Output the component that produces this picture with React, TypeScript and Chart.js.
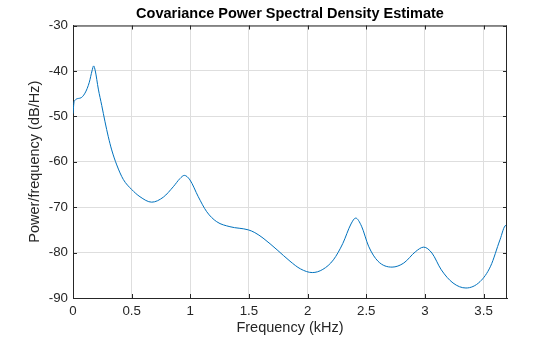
import React, { useEffect, useRef } from "react";
import { Chart, registerables } from "chart.js";

Chart.register(...registerables);

const titleText = "Covariance Power Spectral Density Estimate";
const xLabel = "Frequency (kHz)";
const yLabel = "Power/frequency (dB/Hz)";

const freqKHz = [
  0, 0.01, 0.06, 0.102, 0.139, 0.162, 0.176, 0.19, 0.216, 0.245, 0.273, 0.301,
  0.33, 0.373, 0.429, 0.5, 0.571, 0.671, 0.77, 0.855, 0.912, 0.949, 0.997, 1.068,
  1.14, 1.225, 1.338, 1.495, 1.55, 1.62, 1.74, 1.85, 1.94, 2.04, 2.13, 2.22, 2.3,
  2.37, 2.41, 2.46, 2.52, 2.6, 2.72, 2.82, 2.92, 2.99, 3.06, 3.14, 3.24, 3.35,
  3.47, 3.56, 3.64, 3.69, 3.7,
];
const psdDb = [
  -49.4, -46.7, -46.0, -44.9, -42.5, -40.0, -38.9, -40.0, -44.0, -47.6, -51.2,
  -54.5, -57.4, -60.7, -63.9, -66.1, -67.7, -68.9, -67.8, -65.5, -63.7, -63.0,
  -64.0, -67.7, -71.0, -73.2, -74.3, -75.0, -75.6, -76.8, -79.4, -81.9, -83.6,
  -84.4, -83.7, -81.6, -78.0, -73.7, -72.4, -74.2, -78.6, -81.9, -83.2, -82.3,
  -79.8, -78.8, -80.1, -83.8, -86.7, -87.8, -86.4, -83.0, -77.2, -74.0, -74.8,
];

const xMin = 0;
const xMax = 3.7;
const xStep = 0.5;
const yMin = -90;
const yMax = -30;
const yStep = 10;

const FONT = "'Liberation Sans', Arial, Helvetica, sans-serif";
const AXIS_COLOR = "#262626";
const GRID_COLOR = "#dedede";
const LINE_COLOR = "#0072BD";

const boxPlugin = {
  id: "matlabBox",
  afterDraw(chart: any) {
    const { ctx, chartArea } = chart;
    const { left, right, top, bottom } = chartArea;
    const xs = chart.scales.x;
    const ys = chart.scales.y;
    const tl = 4;
    ctx.save();
    ctx.strokeStyle = AXIS_COLOR;
    ctx.lineWidth = 1;
    ctx.beginPath();
    ctx.moveTo(left, top + 0.5);
    ctx.lineTo(right, top + 0.5);
    ctx.moveTo(right - 0.5, top);
    ctx.lineTo(right - 0.5, bottom);
    xs.ticks.forEach((t: any) => {
      const px = Math.round(xs.getPixelForValue(t.value)) + 0.5;
      ctx.moveTo(px, bottom);
      ctx.lineTo(px, bottom - tl);
      ctx.moveTo(px, top);
      ctx.lineTo(px, top + tl);
    });
    ys.ticks.forEach((t: any) => {
      const py = Math.round(ys.getPixelForValue(t.value)) + 0.5;
      ctx.moveTo(left, py);
      ctx.lineTo(left + tl, py);
      ctx.moveTo(right, py);
      ctx.lineTo(right - tl, py);
    });
    ctx.stroke();
    ctx.restore();
  },
};

export default function App() {
  const canvasRef = useRef<HTMLCanvasElement | null>(null);

  useEffect(() => {
    const canvas = canvasRef.current;
    if (!canvas) return;
    const points = freqKHz.map((f, i) => ({ x: f, y: psdDb[i] }));
    const chart = new Chart(canvas, {
      type: "line",
      data: {
        datasets: [
          {
            data: points,
            borderColor: LINE_COLOR,
            borderWidth: 1,
            pointRadius: 0,
            fill: false,
            cubicInterpolationMode: "monotone",
          },
        ],
      },
      options: {
        responsive: false,
        animation: false,
        devicePixelRatio: 1,
        layout: { padding: { left: 0, right: 53, top: 0, bottom: 0 } },
        plugins: {
          legend: { display: false },
          tooltip: { enabled: false },
          title: {
            display: true,
            text: titleText,
            fullSize: false,
            color: "#000000",
            font: { family: FONT, size: 14.5, weight: "bold", lineHeight: 1.2 },
            padding: { top: 5.3, bottom: 2.8 },
          },
        },
        scales: {
          x: {
            type: "linear",
            min: xMin,
            max: xMax,
            afterFit: (scale: any) => {
              scale.height = 39;
            },
            ticks: {
              stepSize: xStep,
              includeBounds: false,
              color: AXIS_COLOR,
              font: { family: FONT, size: 13.3 },
              padding: 5,
              maxRotation: 0,
              callback: (v: any) => String(Number(v)),
            },
            grid: { color: GRID_COLOR, lineWidth: 1, drawTicks: false },
            border: { display: true, color: AXIS_COLOR, width: 1 },
            title: {
              display: true,
              text: xLabel,
              color: AXIS_COLOR,
              font: { family: FONT, size: 14.5, lineHeight: 1.2 },
              padding: { top: 0, bottom: 0.6 },
            },
          },
          y: {
            type: "linear",
            min: yMin,
            max: yMax,
            afterFit: (scale: any) => {
              scale.width = 73;
            },
            ticks: {
              stepSize: yStep,
              color: AXIS_COLOR,
              font: { family: FONT, size: 13.3 },
              padding: 5,
              callback: (v: any) => String(Number(v)),
            },
            grid: { color: GRID_COLOR, lineWidth: 1, drawTicks: false },
            border: { display: true, color: AXIS_COLOR, width: 1 },
            title: {
              display: true,
              text: yLabel,
              color: AXIS_COLOR,
              font: { family: FONT, size: 14.5, lineHeight: 1.2 },
              padding: { top: 26, bottom: 0 },
            },
          },
        },
      },
      plugins: [boxPlugin],
    } as any);
    return () => chart.destroy();
  }, []);

  return (
    <div style={{ position: "absolute", left: 0, top: 0, width: 560, height: 337, background: "#ffffff" }}>
      <canvas ref={canvasRef} width={560} height={337} style={{ display: "block" }} />
    </div>
  );
}
